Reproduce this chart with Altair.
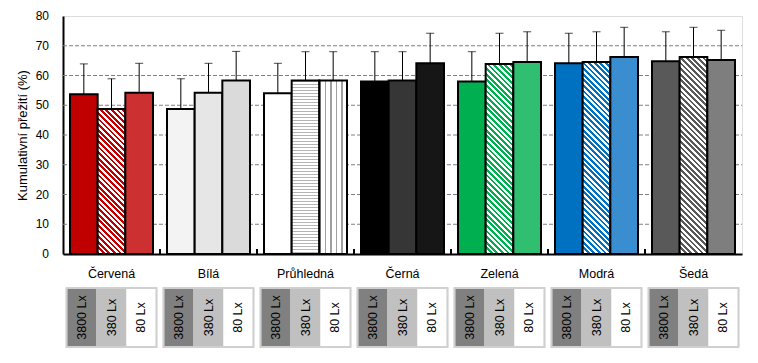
import altair as alt

# ---------------- data ----------------
groups = ["Červená", "Bílá", "Průhledná", "Černá", "Zelená", "Modrá", "Šedá"]
lux = ["3800 Lx", "380 Lx", "80 Lx"]
values = [
    [53.7, 48.7, 54.2],
    [48.7, 54.2, 58.3],
    [54.0, 58.3, 58.3],
    [58.0, 58.3, 64.1],
    [58.0, 63.9, 64.5],
    [64.1, 64.5, 66.2],
    [64.8, 66.2, 65.2],
]
upper = [
    [63.9, 58.9, 64.1],
    [58.9, 64.1, 68.1],
    [64.1, 68.0, 68.0],
    [68.0, 68.0, 74.2],
    [68.0, 74.2, 74.7],
    [74.2, 74.7, 76.2],
    [74.7, 76.2, 75.2],
]
y_ticks = [0, 10, 20, 30, 40, 50, 60, 70, 80]
# fill style per bar: (kind, colour)
styles = [
    [("solid", "#C00000"), ("diag", "#C00000"), ("solid", "#CC3030")],
    [("solid", "#F3F3F3"), ("solid", "#E6E6E6"), ("solid", "#DADADA")],
    [("solid", "#FFFFFF"), ("hlines", "#B4B4B4"), ("vlines", "#A0A0A0")],
    [("solid", "#000000"), ("solid", "#363636"), ("solid", "#161616")],
    [("solid", "#00B050"), ("diag", "#00B050"), ("solid", "#30BE70")],
    [("solid", "#0070C0"), ("diag", "#0070C0"), ("solid", "#3A8ED0")],
    [("solid", "#595959"), ("diag", "#595959"), ("solid", "#7E7E7E")],
]
cell_colors = ["#808080", "#C0C0C0", "#FFFFFF"]
y_title = "Kumulativní přežití (%)"

# ---------------- layout constants ----------------
W, H, YMAX = 679, 238, 80
OFF_PAD = 0.253
BAR_W = (W / len(groups)) / (3 + 2 * OFF_PAD)


def diag(color, h, w=BAR_W, period=5.6, frac=0.5):
    k = w / (w * w + h * h)
    stops, s, smax = [], 0.0, w + h
    while s < smax:
        t0 = min(s * k, 1)
        t1 = min((s + frac * period) * k, 1)
        t2 = min((s + period) * k, 1)
        stops += [{"offset": round(t0, 5), "color": color},
                  {"offset": round(t1, 5), "color": color},
                  {"offset": round(t1, 5), "color": "#FFFFFF"},
                  {"offset": round(t2, 5), "color": "#FFFFFF"}]
        s += period
    return {"gradient": "linear", "x1": 0, "y1": 1, "x2": 1, "y2": 1 - h / w, "stops": stops}


def lines(color, length, vertical, period, width):
    stops, s = [], 0.0
    while s < length:
        a = min(s / length, 1)
        b = min((s + width) / length, 1)
        c = min((s + period) / length, 1)
        stops += [{"offset": round(a, 5), "color": color},
                  {"offset": round(b, 5), "color": color},
                  {"offset": round(b, 5), "color": "#FFFFFF"},
                  {"offset": round(c, 5), "color": "#FFFFFF"}]
        s += period
    if vertical:
        return {"gradient": "linear", "x1": 0, "y1": 0, "x2": 1, "y2": 0, "stops": stops}
    return {"gradient": "linear", "x1": 0, "y1": 0, "x2": 0, "y2": 1, "stops": stops}


def make_fill(kind, color, v):
    h = v / YMAX * H
    if kind == "diag":
        return diag(color, h)
    if kind == "vlines":
        return lines(color, BAR_W, True, 5.5, 1.2)
    if kind == "hlines":
        return lines(color, h, False, 3.0, 1.0)
    return color


records = []
for gi, g in enumerate(groups):
    for li, l in enumerate(lux):
        kind, col = styles[gi][li]
        records.append({
            "group": g, "lux": l,
            "value": values[gi][li], "upper": upper[gi][li],
            "pattern": make_fill(kind, col, values[gi][li]),
        })

cells = [{"group": g, "lux": l, "cell": cell_colors[li]} for g in groups for li, l in enumerate(lux)]
bounds = [{"group": g} for g in groups[1:]]
ticks = [{"tick": t} for t in y_ticks]
grid = [{"tick": t} for t in y_ticks if 0 < t < YMAX]

FONT = "Liberation Sans"

X_AXIS = alt.Axis(title=None, labelAngle=0, labelFontSize=12.5, labelPadding=13,
                  ticks=False, tickSize=0, domainColor="black", domainWidth=2,
                  labelColor="black", labelFont=FONT)
X = alt.X("group:N", sort=groups, scale=alt.Scale(paddingInner=0, paddingOuter=0), axis=X_AXIS)
XO = alt.XOffset("lux:N", sort=lux, scale=alt.Scale(paddingInner=0, paddingOuter=OFF_PAD))
XO2 = alt.XOffset("lux:N", sort=lux, scale=alt.Scale(paddingInner=0, paddingOuter=0.1167))

Y_AXIS = alt.Axis(title=y_title, titleFontSize=13, titleFontWeight="normal", titleColor="black",
                  titleFont=FONT, titlePadding=34, labels=False, grid=False,
                  ticks=False, tickSize=0, domainColor="black", domainWidth=2)
Y_SCALE = alt.Scale(domain=[0, YMAX], nice=False)

# grid lines and tick labels drawn through the y scale
gridlayer = alt.Chart(alt.Data(values=grid)).mark_rule(
    color="#808080", strokeDash=[4, 2], strokeWidth=1
).encode(
    y=alt.Y("tick:Q", scale=Y_SCALE, axis=Y_AXIS),
    x=alt.value(0), x2=alt.value(W),
)
ylabels = alt.Chart(alt.Data(values=ticks)).mark_text(
    align="right", baseline="middle", fontSize=12, font=FONT, color="black"
).encode(
    y=alt.Y("tick:Q", scale=Y_SCALE, axis=Y_AXIS),
    x=alt.value(-14), text=alt.Text("tick:Q"),
)

base = alt.Chart(alt.Data(values=records))

bars = base.mark_bar(stroke="black", strokeWidth=2).encode(
    x=X, xOffset=XO,
    y=alt.Y("value:Q", stack=None, scale=Y_SCALE, axis=Y_AXIS),
    fill=alt.Fill("pattern:N", scale=None, legend=None),
)
err = base.mark_rule(color="black", strokeWidth=1).encode(
    x=X, xOffset=XO,
    y=alt.Y("value:Q", stack=None, scale=Y_SCALE, axis=Y_AXIS),
    y2="upper:Q",
)
cap = base.mark_tick(color="black", size=8, thickness=1).encode(
    x=X, xOffset=XO,
    y=alt.Y("upper:Q", stack=None, scale=Y_SCALE, axis=Y_AXIS),
)
seps = alt.Chart(alt.Data(values=bounds)).mark_rule(color="black", strokeWidth=2).encode(
    x=alt.X("group:N", sort=groups, bandPosition=0, axis=X_AXIS),
    y=alt.value(H), y2=alt.value(H - 5),
)

main = alt.layer(gridlayer, ylabels, bars, err, cap, seps)

tbase = alt.Chart(alt.Data(values=cells))
tcells = tbase.mark_rect().encode(
    x=X, xOffset=XO2, y=alt.value(272), y2=alt.value(331),
    fill=alt.Fill("cell:N", scale=None, legend=None),
)
tbox = tbase.mark_bar(width=alt.RelativeBandSize(band=90 / 97), fill="transparent",
                      stroke="#D0D0D0", strokeWidth=1.5).encode(
    x=X, y=alt.value(272), y2=alt.value(331),
)
ttext = tbase.mark_text(angle=270, fontSize=12.5, font=FONT, color="black",
                        align="center", baseline="middle").encode(
    x=X, xOffset=XO2, y=alt.value(301.5), text="lux:N",
)
table = alt.layer(tcells, tbox, ttext)

chart = alt.layer(main, table).resolve_scale(
    xOffset="independent", fill="independent"
).properties(
    width=W, height=H,
    autosize=alt.AutoSizeParams(type="none"),
    padding={"left": 55, "top": 8, "right": 8, "bottom": 100},
).configure_view(stroke="black", strokeWidth=2).configure(background="white")

chart.save("out.html", embed_options={"renderer": "svg", "actions": False})
